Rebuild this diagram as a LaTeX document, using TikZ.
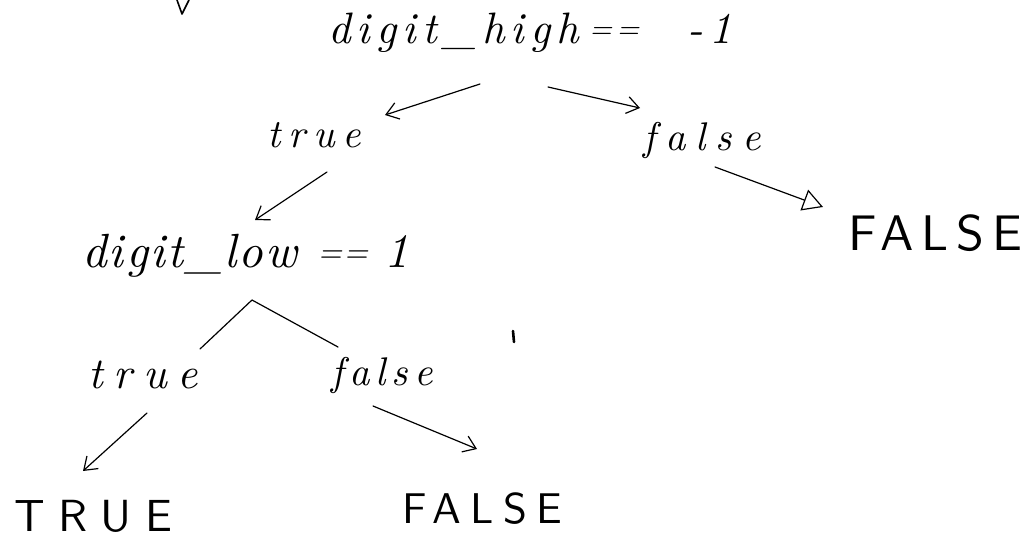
\documentclass[tikz,border=0pt]{standalone}
\usepackage{fontspec}
\usetikzlibrary{arrows.meta}
\newcommand\hw[2]{\fontspec{lmroman10-italic.otf}[LetterSpace=#2]\fontsize{#1}{#1}\selectfont}
\newcommand\hc[2]{\fontspec{lmsans10-regular.otf}[LetterSpace=#2]\fontsize{#1}{#1}\selectfont}
\begin{document}
\begin{tikzpicture}[x=1pt,y=-1pt, line width=1.2pt, line cap=round, line join=round,
  txt/.style={anchor=base west, inner sep=0pt, outer sep=0pt},
  barb/.style={-{Straight Barb[length=12pt,width=17pt]}},
  tri/.style={-{Triangle[open,length=20pt,width=22pt]}}]
\fill[white] (0,0) rectangle (1032,538);
\useasboundingbox (0,0) rectangle (1032,538);
% nodes
\node[txt] (root) at (328,43) {\hw{44}{14}digit\_high\hspace{10pt}\raisebox{5pt}{\fontsize{30}{30}\selectfont ==}\hspace{48pt}-1};
\node[txt] (t1) at (267,147) {\hw{40}{20}true};
\node[txt] (f1) at (643,150) {\hw{40}{25}false};
\node[txt] (F1) at (848,250) {\hc{50}{16}FALSE};
\node[txt] (low) at (82,267) {\hw{48}{5}digit\_low\hspace{20pt}\raisebox{5pt}{\fontsize{32}{32}\selectfont ==}\hspace{16pt}1};
\node[txt] (t2) at (88,388) {\hw{44}{25}true};
\node[txt] (f2) at (331,385) {\hw{40}{15}false};
\node[txt] (T2) at (14,531) {\hc{45}{30}TRUE};
\node[txt] (F2) at (402,523) {\hc{43}{22}FALSE};
% connectors
\draw[barb] ([shift={(152,41)}]root.base west) -- ([shift={(118,-32)}]t1.base west);
\draw[barb] ([shift={(220,44)}]root.base west) -- ([shift={(-3,-42)}]f1.base west);
\draw[barb] ([shift={(60,25)}]t1.base west) -- ([shift={(173,-47)}]low.base west);
\draw[tri] ([shift={(72,17)}]f1.base west) -- ([shift={(-25,-43)}]F1.base west);
\coordinate (peak) at ([shift={(170,33)}]low.base west);
\draw ([shift={(112,-39)}]t2.base west) -- (peak) -- ([shift={(7,-38)}]f2.base west);
\draw[barb] ([shift={(59,25)}]t2.base west) -- ([shift={(69,-60)}]T2.base west);
\draw[barb] ([shift={(42,21)}]f2.base west) -- ([shift={(75,-74)}]F2.base west);
% stray marks on the page
\draw[line width=1.6pt] (177,0) -- (182,14) -- (189,0);
\draw[line width=2.6pt] (513,331) -- (514,342);
\end{tikzpicture}
\end{document}
